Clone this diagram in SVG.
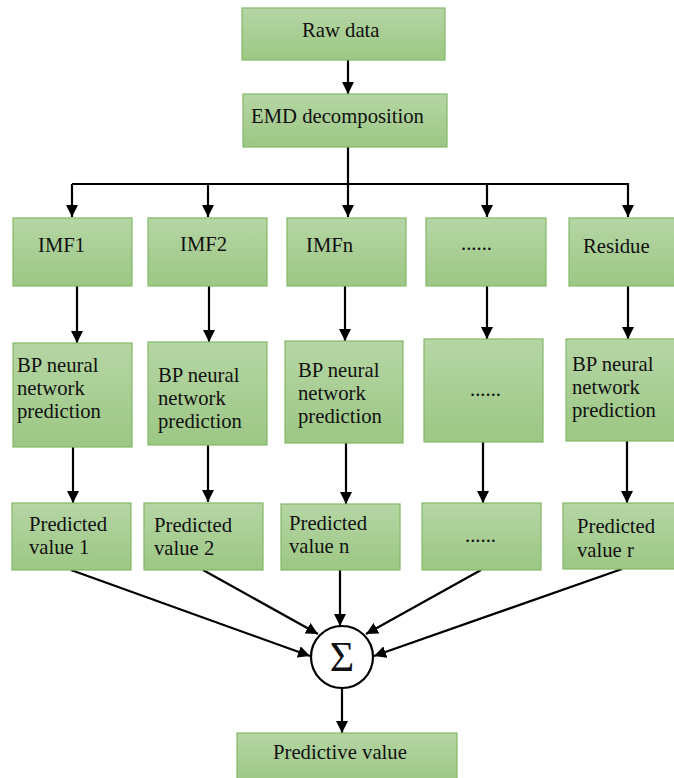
<svg xmlns="http://www.w3.org/2000/svg" width="674" height="778" viewBox="0 0 674 778">
  <defs>
    <linearGradient id="greenFill" x1="0" y1="0" x2="0" y2="1">
      <stop offset="0" stop-color="#b6d6a5"/>
      <stop offset="1" stop-color="#9cc784"/>
    </linearGradient>
    <marker id="arrow" markerUnits="userSpaceOnUse" markerWidth="12" markerHeight="12" viewBox="0 0 12 12" refX="12" refY="6" orient="auto">
      <path d="M0,0 L12,6 L0,12 Z" fill="#000"/>
    </marker>
    <style>
      .box { fill: url(#greenFill); stroke: #84b868; stroke-width: 1.2; }
      .lbl { font-family: "Liberation Serif", "Times New Roman", serif; font-size: 20.7px; fill: #111; }
      .wire { fill: none; stroke: #000; stroke-width: 2.2; }
      .arr { fill: none; stroke: #000; stroke-width: 2.2; marker-end: url(#arrow); }
    </style>
  </defs>
  <rect width="674" height="778" fill="#fff"/>

  <!-- connectors -->
  <g id="connectors">
    <line class="arr" x1="348" y1="60" x2="348" y2="94"/>
    <line class="wire" x1="348" y1="147" x2="348" y2="184"/>
    <polyline class="wire" points="72,184 628,184"/>
    <line class="arr" x1="72" y1="184" x2="72" y2="217"/>
    <line class="arr" x1="208" y1="184" x2="208" y2="217"/>
    <line class="arr" x1="348" y1="184" x2="348" y2="217"/>
    <line class="arr" x1="487" y1="184" x2="487" y2="217"/>
    <line class="arr" x1="628" y1="183" x2="628" y2="217"/>

    <line class="arr" x1="77" y1="286" x2="77" y2="343"/>
    <line class="arr" x1="209" y1="286" x2="209" y2="342"/>
    <line class="arr" x1="345" y1="286" x2="345" y2="341"/>
    <line class="arr" x1="487" y1="286" x2="487" y2="339"/>
    <line class="arr" x1="628" y1="286" x2="628" y2="339"/>

    <line class="arr" x1="73" y1="447" x2="73" y2="503"/>
    <line class="arr" x1="208" y1="445" x2="208" y2="502"/>
    <line class="arr" x1="346" y1="443" x2="346" y2="504"/>
    <line class="arr" x1="483" y1="442" x2="483" y2="503"/>
    <line class="arr" x1="627" y1="441" x2="627" y2="503"/>

    <line class="arr" x1="71" y1="570" x2="310" y2="656"/>
    <line class="arr" x1="203" y1="570" x2="318" y2="634"/>
    <line class="arr" x1="340" y1="570" x2="340" y2="626"/>
    <line class="arr" x1="481" y1="570" x2="366" y2="634"/>
    <line class="arr" x1="622" y1="569" x2="374" y2="656"/>

    <line class="arr" x1="342" y1="688" x2="342" y2="733"/>
  </g>

  <g id="raw-data">
    <rect class="box" x="242" y="8" width="203" height="52"/>
    <text class="lbl" x="302" y="37">Raw data</text>
  </g>
  <g id="emd">
    <rect class="box" x="243" y="94" width="204" height="53"/>
    <text class="lbl" x="251" y="123">EMD decomposition</text>
  </g>

  <g id="imf1">
    <rect class="box" x="13" y="218" width="119" height="68"/>
    <text class="lbl" x="38" y="252">IMF1</text>
  </g>
  <g id="imf2">
    <rect class="box" x="148" y="218" width="119" height="68"/>
    <text class="lbl" x="180" y="251">IMF2</text>
  </g>
  <g id="imfn">
    <rect class="box" x="287" y="218" width="119" height="68"/>
    <text class="lbl" x="306" y="252">IMFn</text>
  </g>
  <g id="imf-more">
    <rect class="box" x="426" y="218" width="120" height="68"/>
    <text class="lbl" x="461" y="250">......</text>
  </g>
  <g id="residue">
    <rect class="box" x="569" y="218" width="110" height="68"/>
    <text class="lbl" x="583" y="253">Residue</text>
  </g>

  <g id="bp1">
    <rect class="box" x="13" y="343" width="119" height="104"/>
    <text class="lbl" x="17" y="372">BP neural</text>
    <text class="lbl" x="17" y="395">network</text>
    <text class="lbl" x="17" y="418">prediction</text>
  </g>
  <g id="bp2">
    <rect class="box" x="148" y="342" width="119" height="103"/>
    <text class="lbl" x="158" y="382">BP neural</text>
    <text class="lbl" x="158" y="405">network</text>
    <text class="lbl" x="158" y="428">prediction</text>
  </g>
  <g id="bpn">
    <rect class="box" x="285" y="341" width="118" height="102"/>
    <text class="lbl" x="298" y="377">BP neural</text>
    <text class="lbl" x="298" y="400">network</text>
    <text class="lbl" x="298" y="423">prediction</text>
  </g>
  <g id="bp-more">
    <rect class="box" x="424" y="339" width="119" height="103"/>
    <text class="lbl" x="470" y="396">......</text>
  </g>
  <g id="bp-residue">
    <rect class="box" x="566" y="339" width="113" height="102"/>
    <text class="lbl" x="572" y="371">BP neural</text>
    <text class="lbl" x="572" y="394">network</text>
    <text class="lbl" x="572" y="417">prediction</text>
  </g>

  <g id="pred1">
    <rect class="box" x="12" y="503" width="119" height="67"/>
    <text class="lbl" x="29" y="531">Predicted</text>
    <text class="lbl" x="29" y="554">value 1</text>
  </g>
  <g id="pred2">
    <rect class="box" x="144" y="503" width="119" height="67"/>
    <text class="lbl" x="154" y="532">Predicted</text>
    <text class="lbl" x="154" y="555">value 2</text>
  </g>
  <g id="predn">
    <rect class="box" x="281" y="504" width="119" height="66"/>
    <text class="lbl" x="289" y="530">Predicted</text>
    <text class="lbl" x="289" y="553">value n</text>
  </g>
  <g id="pred-more">
    <rect class="box" x="422" y="503" width="119" height="67"/>
    <text class="lbl" x="465" y="542">......</text>
  </g>
  <g id="predr">
    <rect class="box" x="563" y="503" width="116" height="66"/>
    <text class="lbl" x="577" y="533">Predicted</text>
    <text class="lbl" x="577" y="557">value r</text>
  </g>

  <g id="sum">
    <circle cx="342" cy="657" r="31" fill="#fff" stroke="#000" stroke-width="2.2"/>
    <text x="342" y="671" text-anchor="middle" font-family="Liberation Serif, Times New Roman, serif" font-size="42" fill="#111">Σ</text>
  </g>

  <g id="predictive-value">
    <rect class="box" x="237" y="733" width="220" height="50"/>
    <text class="lbl" x="273" y="759">Predictive value</text>
  </g>
</svg>
